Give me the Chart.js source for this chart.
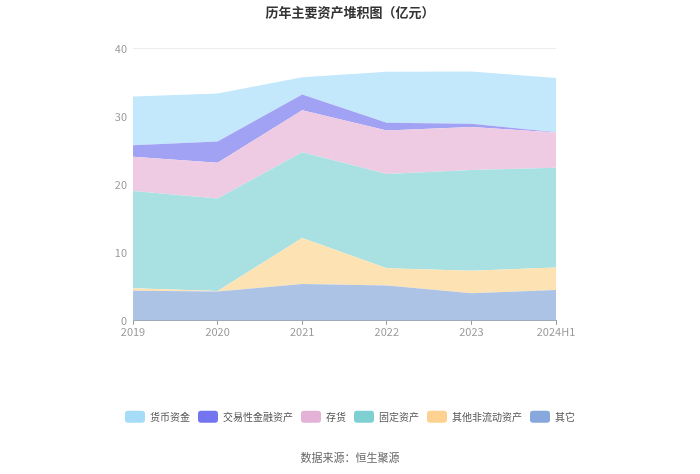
<!DOCTYPE html>
<html>
<head>
<meta charset="utf-8">
<script src="https://cdn.jsdelivr.net/npm/chart.js@4/dist/chart.umd.min.js"></script>
<style>
  html, body { margin: 0; padding: 0; background: #fff; }
  #wrap { width: 700px; height: 474px; }
</style>
</head>
<body>
<div id="wrap"><canvas id="myChart" width="700" height="474"></canvas></div>
<script>
// 年份
var years = ['2019', '2020', '2021', '2022', '2023', '2024H1'];
// 各项资产（亿元），从下往上堆
var other = [4.43, 4.29, 5.42, 5.17, 4.04, 4.53];            // 其它
var otherNonCurrent = [0.35, 0.10, 6.75, 2.56, 3.30, 3.30];  // 其他非流动资产
var fixedAssets = [14.28, 13.60, 12.61, 13.85, 14.83, 14.67]; // 固定资产
var inventory = [5.04, 5.25, 6.16, 6.40, 6.30, 5.18];        // 存货
var tradingAssets = [1.70, 3.10, 2.31, 1.12, 0.50, 0.02];    // 交易性金融资产
var cash = [7.15, 7.05, 2.55, 7.50, 7.68, 7.97];             // 货币资金

var yTicks = [0, 10, 20, 30, 40];

var font = '"Noto Sans CJK SC", "Noto Sans", sans-serif';

function area(label, values, fill, legendColor, first) {
  return {
    label: label,
    data: values,
    backgroundColor: fill,
    borderColor: fill,
    borderWidth: 0,
    pointRadius: 0,
    pointHoverRadius: 0,
    tension: 0,
    fill: first ? 'origin' : '-1',
    legendColor: legendColor
  };
}

var ctx = document.getElementById('myChart');
var myChart = new Chart(ctx, {
  type: 'line',
  data: {
    labels: years,
    datasets: [
      area('其它', other, '#adc3e5', '#86a8dc', true),
      area('其他非流动资产', otherNonCurrent, '#fde2b4', '#fdd291', false),
      area('固定资产', fixedAssets, '#a9e1e2', '#7fd0d2', false),
      area('存货', inventory, '#efcbe3', '#e3b2d6', false),
      area('交易性金融资产', tradingAssets, '#a2a2f4', '#7474ee', false),
      area('货币资金', cash, '#c3e8fb', '#a6dcf8', false)
    ]
  },
  options: {
    responsive: false,
    animation: false,
    events: [],
    layout: { padding: 0 },
    plugins: {
      title: {
        display: true,
        text: '历年主要资产堆积图（亿元）',
        color: '#333',
        font: { family: font, size: 13, weight: 'bold' },
        padding: { top: 4, bottom: 29 }
      },
      subtitle: {
        display: true,
        position: 'bottom',
        text: '数据来源：恒生聚源',
        color: '#666',
        font: { family: font, size: 11 },
        padding: { top: 18, bottom: 10 }
      },
      legend: {
        position: 'bottom',
        reverse: true,
        labels: {
          color: '#555',
          font: { family: font, size: 10 },
          boxWidth: 20,
          boxHeight: 12,
          padding: 8,
          useBorderRadius: true,
          borderRadius: 3,
          generateLabels: function (chart) {
            return chart.data.datasets.map(function (ds, i) {
              return {
                text: ds.label,
                fillStyle: ds.legendColor,
                strokeStyle: ds.legendColor,
                lineWidth: 0,
                borderRadius: 3,
                fontColor: '#555',
                datasetIndex: i
              };
            });
          }
        }
      },
      tooltip: { enabled: false }
    },
    scales: {
      x: {
        offset: false,
        grid: { display: true, drawOnChartArea: false, drawTicks: true, tickLength: 4, color: '#999' },
        border: { display: true, color: '#999' },
        ticks: { color: '#999', font: { family: font, size: 11 }, padding: 0, maxRotation: 0 },
        afterFit: function (scale) { scale.height = 82; }
      },
      y: {
        stacked: true,
        min: 0,
        max: 40,
        afterBuildTicks: function (scale) {
          scale.ticks = yTicks.map(function (v) { return { value: v }; });
        },
        grid: { color: '#ececec', drawTicks: false },
        border: { display: false },
        ticks: { color: '#999', font: { family: font, size: 11 }, padding: 6 },
        afterFit: function (scale) { scale.width = 133; }
      },
      // 右侧空白
      yRight: {
        position: 'right',
        display: true,
        grid: { display: false },
        border: { display: false },
        ticks: { display: false },
        afterFit: function (scale) { scale.width = 144; }
      }
    }
  }
});
</script>
</body>
</html>
